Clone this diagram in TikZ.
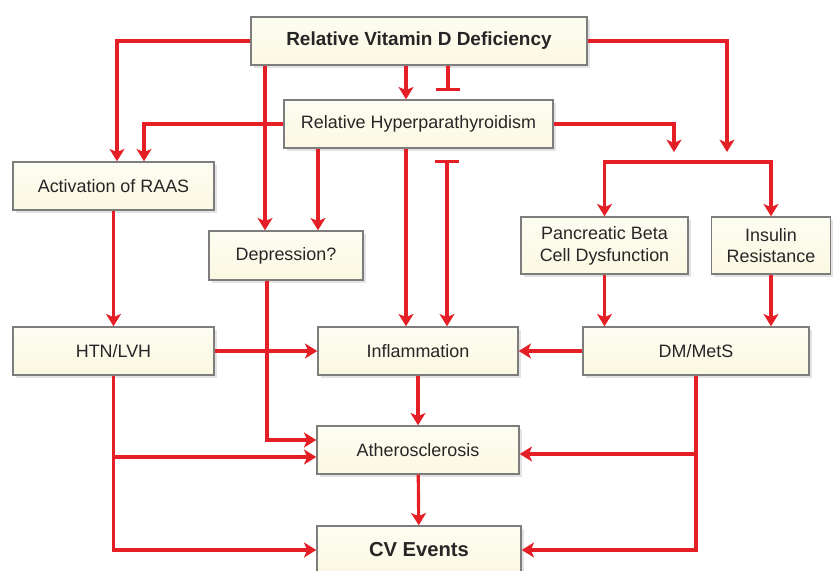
\documentclass[tikz,border=0pt]{standalone}
\usepackage{fontspec}
\setmainfont{Liberation Sans}
\usepackage{tikz}
\usetikzlibrary{arrows.meta,shadows}
\definecolor{linkred}{RGB}{228,32,38}
\definecolor{boxfill}{RGB}{251,249,226}
\definecolor{boxline}{RGB}{125,125,125}

\begin{document}
\begin{tikzpicture}[x=0.02cm,y=0.02cm]
\tikzstyle{every node}+=[font=\fontsize{10.2}{12.4}\selectfont, text=black!85]
\tikzstyle{box}=[draw=boxline, line width=0.8pt, top color=white!55!boxfill, bottom color=boxfill, drop shadow={shadow xshift=1.5pt, shadow yshift=-1.5pt, fill=black!22}, minimum height=0.96cm, inner sep=2pt, align=center]
\tikzstyle{big}=[font=\fontsize{11.5}{14}\selectfont\bfseries]
\tikzstyle{wire}=[draw=linkred, line width=1.8pt]
\tikzstyle{link}=[wire, -{Stealth[length=7pt,width=8.5pt,inset=1.8pt]}]
\tikzstyle{stop}=[wire, -{Bar[width=0.5cm]}]
\tikzstyle{stoplink}=[wire, {Bar[width=0.5cm]}-{Stealth[length=7pt,width=8.5pt,inset=1.8pt]}]
\useasboundingbox (0,0) rectangle (833,-571);
\node[box,big,font=\fontsize{10.8}{13}\selectfont\bfseries,minimum width=6.72cm] (vitd) at (419,-41) {Relative Vitamin D Deficiency};
\node[box,minimum width=5.38cm] (hyper) at (418.5,-124) {Relative Hyperparathyroidism};
\node[box,minimum width=4.02cm] (raas) at (113.5,-186) {Activation of RAAS};
\node[box,minimum width=3.08cm,minimum height=0.98cm] (depr) at (286,-255.5) {Depression?};
\node[box,minimum width=3.34cm,minimum height=1.14cm] (panc) at (604.5,-245.5) {Pancreatic Beta\\Cell Dysfunction};
\node[box,minimum width=2.38cm,minimum height=1.14cm] (insul) at (771,-245.5) {Insulin\\Resistance};
\node[box,minimum width=4.02cm] (htn) at (113.5,-351) {HTN/LVH};
\node[box,minimum width=4cm] (infl) at (418,-351) {Inflammation};
\node[box,minimum width=4.52cm] (dm) at (696,-351) {DM/MetS};
\node[box,minimum width=4.04cm] (ather) at (418,-450) {Atherosclerosis};
\node[box,big,minimum width=4.08cm] (cv) at (419,-550) {CV Events};
\coordinate (xa) at (117,0);
\coordinate (xb) at (144,0);
\coordinate (xc) at (265,0);
\coordinate (xd) at (318,0);
\coordinate (xe) at (406,0);
\coordinate (xf) at (267,0);
\coordinate (ya) at (0,-440);
\coordinate (yb) at (0,-457);
\coordinate (yc) at (0,-454);
\coordinate (bar1) at (448,-91);
\coordinate (bar2) at (447,-160);
\coordinate (jr1) at (674,-152);
\coordinate (jr2) at (727,-152);
\coordinate (split) at (686,-162);
\draw[link] (vitd.west) -| (raas.north -| xa);
\draw[link] (vitd.south -| xc) -- (depr.north -| xc);
\draw[link] (vitd.south -| xe) -- (hyper.north -| xe);
\draw[stop] (vitd.south -| bar1) -- (bar1);
\draw[link] (vitd.east) -| (jr2);
\draw[link] (hyper.west) -| (raas.north -| xb);
\draw[link] (hyper.south -| xd) -- (depr.north -| xd);
\draw[link] (hyper.south -| xe) -- (infl.north -| xe);
\draw[stoplink] (bar2) -- (infl.north -| bar2);
\draw[link] (hyper.east) -| (jr1);
\draw[link] (split) -| (panc.north);
\draw[link] (split) -| (insul.north);
\draw[link] (raas) -- (htn);
\draw[link] (htn) -- (infl);
\draw[link] (depr.south -| xf) |- (ather.west |- ya);
\draw[link] (htn.south) |- (cv.west);
\draw[link] (htn.south |- yb) -- (ather.west |- yb);
\draw[link] (infl) -- (ather);
\draw[link] (ather) -- (cv);
\draw[link] (dm) -- (infl);
\draw[link] (dm.south) |- (cv.east);
\draw[link] (dm.south |- yc) -- (ather.east |- yc);
\draw[link] (panc) -- (dm.north -| panc);
\draw[link] (insul) -- (dm.north -| insul);
\end{tikzpicture}
\end{document}
